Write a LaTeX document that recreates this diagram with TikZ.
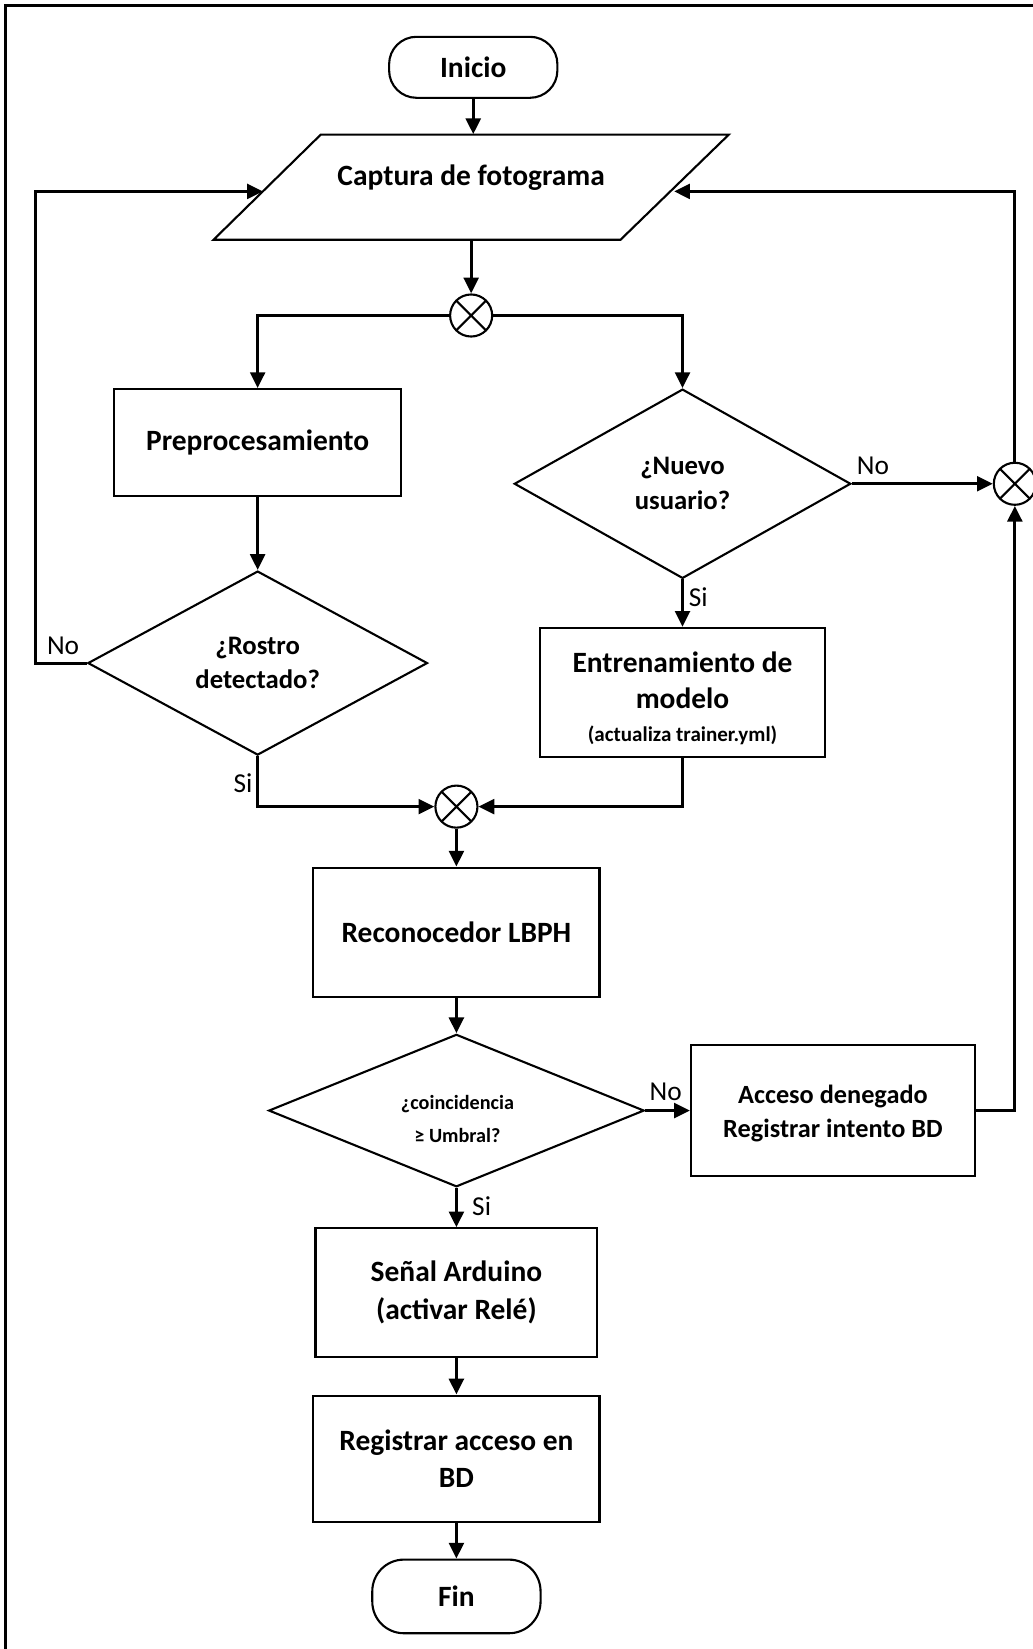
\documentclass[tikz,border=0pt]{standalone}
\usepackage{fontspec}
\setmainfont{Carlito}
\usetikzlibrary{shapes.geometric,arrows.meta}
\begin{document}
\begin{tikzpicture}[x=0.5pt,y=-0.5pt,
  shp/.style={draw, line width=1pt, align=center, inner sep=0pt, font=\fontsize{14}{17}\selectfont\bfseries},
  box/.style={shp, rectangle},
  term/.style={shp, rectangle, rounded corners=13pt},
  dec/.style={shp, diamond, font=\fontsize{12.7}{16.5}\selectfont\bfseries},
  txt/.style={align=center, inner sep=0pt, font=\fontsize{14}{17}\selectfont\bfseries},
  sumj/.style={circle, draw, line width=1pt, minimum size=20pt, inner sep=0pt,
    path picture={\draw[line width=1pt] (path picture bounding box.north east) -- (path picture bounding box.south west)
      (path picture bounding box.north west) -- (path picture bounding box.south east);}},
  arr/.style={line width=1.5pt, -{Triangle[length=7.5pt,width=7pt]}},
  lbl/.style={font=\fontsize{13}{15}\selectfont, inner sep=0pt}
]
\useasboundingbox (0,0) rectangle (982,1568);
% frame
\draw[line width=1.5pt] (5,1570) -- (5,5) -- (984,5);

% nodes
\node[term, minimum width=80pt, minimum height=29pt] (ini) at (450,64) {Inicio};
\draw[line width=1pt] (305,128) -- (693,128) -- (590,228) -- (203,228) -- cycle;
\node[minimum width=150pt, minimum height=50pt, inner sep=0pt] (cap) at (448,178) {};
\node[txt] (capT) at (448,169) {Captura de fotograma};
\coordinate (capL) at (250,182);
\coordinate (capR) at (641,182);
\node[sumj] (j1) at (448,300) {};
\node[box, minimum width=136.5pt, minimum height=51pt] (pre) at (245,421) {Preprocesamiento};
\node[dec, minimum width=161.5pt, minimum height=87.5pt] (ros) at (245,630.5) {¿Rostro\\detectado?};
\node[dec, minimum width=160pt, minimum height=90pt] (nue) at (649,460) {¿Nuevo\\usuario?};
\node[sumj] (j3) at (965,460) {};
\node[box, minimum width=135.5pt, minimum height=61.5pt] (ent) at (649,658.5) {};
\node[txt] (entT) at (649,664)
  {Entrenamiento de\\modelo\\[-1pt]{\fontsize{10}{12}\selectfont (actualiza trainer.yml)}};
\node[sumj] (j2) at (434,767) {};
\node[box, minimum width=136pt, minimum height=61.5pt] (rec) at (434,886.5) {Reconocedor LBPH};
\node[dec, minimum width=178.5pt, minimum height=72.5pt] (coi) at (434,1056) {};
\node[txt, font=\fontsize{9.6}{16}\selectfont\bfseries] (coiT) at (435,1064) {¿coincidencia\\≥ Umbral?};
\node[box, minimum width=135pt, minimum height=62pt] (acc) at (792,1056) {};
\node[txt, font=\fontsize{12.5}{16}\selectfont\bfseries] (accT) at (792,1059) {Acceso denegado\\Registrar intento BD};
\node[box, minimum width=134pt, minimum height=61pt, font=\fontsize{14}{18}\selectfont\bfseries] (sen) at (434,1229) {Señal Arduino\\(activar Relé)};
\node[box, minimum width=136pt, minimum height=60pt, font=\fontsize{14}{17.5}\selectfont\bfseries] (reg) at (434,1387) {Registrar acceso en\\BD};
\node[term, minimum width=80pt, minimum height=35pt, rounded corners=15pt] (fin) at (434,1518) {Fin};

% connectors
\draw[arr] (ini.south) -- (ini.south |- cap.north);
\draw[arr] (cap.south) -- (j1.north);
\draw[arr] (j1.west) -| (pre.north);
\draw[arr] (j1.east) -| (nue.north);
\draw[arr] (pre.south) -- (ros.north);
\draw[arr] (ros.west) -- ++(-49,0) |- (capL);
\draw[arr] (ros.south) |- (j2.west);
\draw[arr] (nue.east) -- (j3.west);
\draw[arr] (j3.north) |- (capR);
\draw[arr] (nue.south) -- (ent.north);
\draw[arr] (ent.south) |- (j2.east);
\draw[arr] (j2.south) -- (rec.north);
\draw[arr] (rec.south) -- (coi.north);
\draw[arr] (coi.east) -- (acc.west);
\draw[arr] (acc.east) -| (j3.south);
\draw[arr] (coi.south) -- (sen.north);
\draw[arr] (sen.south) -- (reg.north);
\draw[arr] (reg.south) -- (fin.north);

% labels
\node[lbl] (lno1) at (60,614) {No};
\node[lbl] (lsi1) at (231,745) {Si};
\node[lbl] (lno2) at (830,443) {No};
\node[lbl] (lsi2) at (664,568) {Si};
\node[lbl] (lno3) at (633,1038) {No};
\node[lbl] (lsi3) at (458,1147) {Si};
\end{tikzpicture}
\end{document}
